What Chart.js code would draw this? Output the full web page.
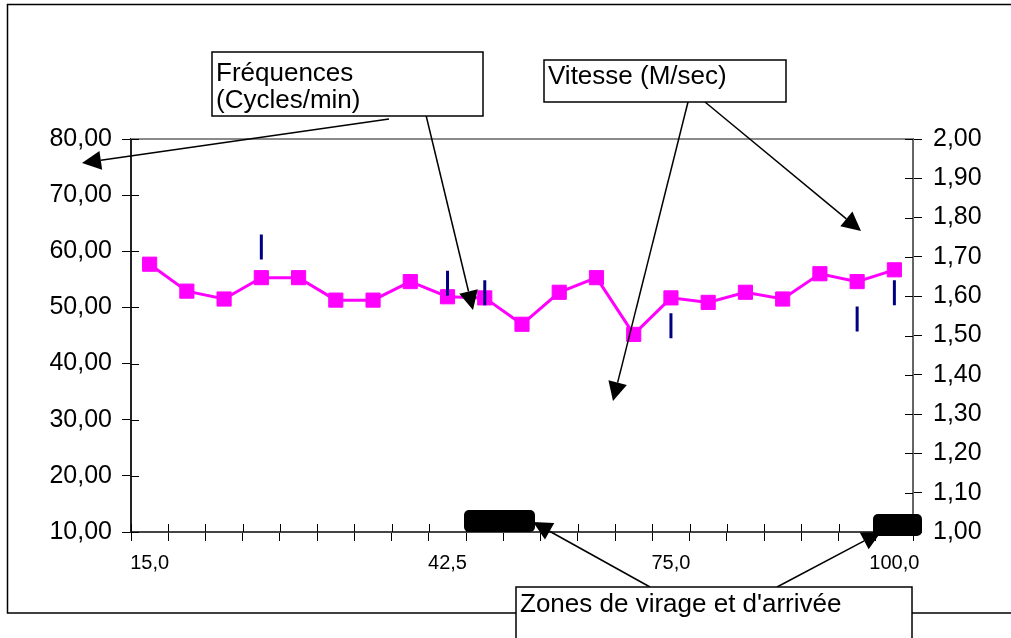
<!DOCTYPE html>
<html>
<head>
<meta charset="utf-8">
<title>Fréquences et vitesse</title>
<script src="https://cdn.jsdelivr.net/npm/chart.js@4/dist/chart.umd.min.js"></script>
<style>
  body { margin: 0; background: #fff; }
  canvas { display: block; }
</style>
</head>
<body>
<canvas id="graphique" width="1011" height="638"></canvas>
<script>
// Distances (seules quelques étiquettes sont affichées)
const distances = ['15,0', '', '', '', '', '', '', '', '42,5', '', '', '', '', '', '75,0', '', '', '', '', '', '100,0'];

// Fréquences (cycles/min), axe de gauche
const frequences = [57.7, 52.9, 51.5, 55.3, 55.3, 51.3, 51.3, 54.6, 51.9, 51.7, 47.0,
                    52.7, 55.3, 45.2, 51.7, 50.9, 52.7, 51.5, 56.0, 54.6, 56.7];

// Vitesse (m/sec), axe de droite
const vitesse = [null, null, null, 1.725, null, null, null, null, 1.633, 1.609, null,
                 null, null, null, 1.525, null, null, null, null, 1.542, 1.609];

// Graduations des axes
const gradGauche = { min: 10, max: 80, pas: 10 };
const gradDroite = { min: 1, max: 2, pas: 0.1 };

const police = "'Liberation Sans', Arial, sans-serif";
Chart.defaults.font.family = police;
Chart.defaults.color = '#000';

function virgule(v) {
  return Number(v).toFixed(2).replace('.', ',');
}

// Flèche pleine de (x1,y1) vers (x2,y2)
function fleche(ctx, x1, y1, x2, y2) {
  const ang = Math.atan2(y2 - y1, x2 - x1);
  const long = 19, demi = 9.5;
  const bx = x2 - Math.cos(ang) * long;
  const by = y2 - Math.sin(ang) * long;
  ctx.beginPath();
  ctx.moveTo(x1, y1);
  ctx.lineTo(bx, by);
  ctx.stroke();
  ctx.beginPath();
  ctx.moveTo(x2, y2);
  ctx.lineTo(bx + Math.sin(ang) * demi, by - Math.cos(ang) * demi);
  ctx.lineTo(bx - Math.sin(ang) * demi, by + Math.cos(ang) * demi);
  ctx.closePath();
  ctx.fill();
}

function boite(ctx, x, y, w, h, lignes, bas) {
  ctx.fillStyle = '#fff';
  ctx.fillRect(x, y, w, h);
  ctx.strokeStyle = '#000';
  ctx.lineWidth = 1.5;
  ctx.strokeRect(x, y, w, h);
  ctx.fillStyle = '#000';
  ctx.font = '26px ' + police;
  ctx.textAlign = 'left';
  ctx.textBaseline = 'alphabetic';
  lignes.forEach((t, i) => ctx.fillText(t, x + 4, bas + i * 27));
}

function pave(ctx, x, y, w, h) {
  ctx.fillStyle = '#000';
  ctx.beginPath();
  ctx.roundRect(x, y, w, h, 5);
  ctx.fill();
}

// Cadre, bord du tracé et petits traits de graduation côté intérieur
const decor = {
  id: 'decor',
  beforeDraw(chart) {
    const ctx = chart.ctx;
    ctx.save();
    ctx.fillStyle = '#fff';
    ctx.fillRect(0, 0, chart.width, chart.height);
    ctx.strokeStyle = '#000';
    ctx.lineWidth = 1.5;
    ctx.beginPath();
    ctx.moveTo(1011, 4.5);
    ctx.lineTo(7.5, 4.5);
    ctx.lineTo(7.5, 613);
    ctx.lineTo(1011, 613);
    ctx.stroke();
    ctx.restore();
  },
  afterDatasetsDraw(chart) {
    const ctx = chart.ctx;
    const a = chart.chartArea;
    const sx = chart.scales.x, sy = chart.scales.y, sy1 = chart.scales.y1;
    ctx.save();
    // bord supérieur gris
    ctx.strokeStyle = '#8a8a8a';
    ctx.lineWidth = 2;
    ctx.beginPath();
    ctx.moveTo(a.left, a.top);
    ctx.lineTo(a.right, a.top);
    ctx.stroke();
    ctx.strokeStyle = '#000';
    ctx.lineWidth = 1;
    ctx.beginPath();
    for (let i = 0; i <= distances.length; i++) {
      const x = Math.round(sx.getPixelForValue(i - 0.5)) + 0.5;
      ctx.moveTo(x, a.bottom);
      ctx.lineTo(x, a.bottom - 8);
    }
    sy.ticks.forEach((t, i) => {
      const y = Math.round(sy.getPixelForTick(i)) + 0.5;
      ctx.moveTo(a.left, y);
      ctx.lineTo(a.left + 8, y);
    });
    sy1.ticks.forEach((t, i) => {
      const y = Math.round(sy1.getPixelForTick(i)) + 0.5;
      ctx.moveTo(a.right, y);
      ctx.lineTo(a.right - 8, y);
    });
    ctx.stroke();
    ctx.restore();
  },
  afterDraw(chart) {
    const ctx = chart.ctx;
    ctx.save();
    ctx.strokeStyle = '#000';
    ctx.fillStyle = '#000';
    ctx.lineWidth = 1.5;
    // zones de virage et d'arrivée
    pave(ctx, 464, 510, 71, 22);
    pave(ctx, 873, 514, 49, 22);
    fleche(ctx, 389, 119, 82, 163);
    fleche(ctx, 425, 111, 473, 310);
    fleche(ctx, 688, 102, 613, 401);
    fleche(ctx, 705, 102, 861, 231);
    fleche(ctx, 650, 587, 533, 522);
    fleche(ctx, 777, 587, 881, 532);
    boite(ctx, 212, 52, 271, 64, ['Fréquences', '(Cycles/min)'], 81);
    boite(ctx, 544, 60, 242, 42, ['Vitesse (M/sec)'], 84);
    boite(ctx, 516, 587, 396, 52, ["Zones de virage et d'arrivée"], 612);
    ctx.restore();
  }
};

const ctx = document.getElementById('graphique').getContext('2d');

const graphique = new Chart(ctx, {
  type: 'line',
  data: {
    labels: distances,
    datasets: [
      {
        label: 'Fréquences (Cycles/min)',
        data: frequences,
        yAxisID: 'y',
        order: 1,
        borderColor: '#ff00ff',
        backgroundColor: '#ff00ff',
        borderWidth: 3,
        pointStyle: 'rect',
        pointRadius: 10,
        pointBorderWidth: 1,
        pointBackgroundColor: '#ff00ff',
        pointBorderColor: '#ff00ff',
        tension: 0
      },
      {
        label: 'Vitesse (M/sec)',
        data: vitesse,
        yAxisID: 'y1',
        order: 0,
        showLine: false,
        pointStyle: 'line',
        pointRotation: 90,
        pointRadius: 12.5,
        pointBorderWidth: 3,
        pointBorderColor: '#000080',
        borderColor: '#000080'
      }
    ]
  },
  options: {
    responsive: false,
    devicePixelRatio: 1,
    animation: false,
    layout: { padding: { top: 139, left: 0, right: 0, bottom: 0 } },
    plugins: {
      legend: { display: false },
      tooltip: { enabled: false }
    },
    scales: {
      x: {
        type: 'category',
        offset: true,
        grid: { offset: true, drawOnChartArea: false, tickLength: 9, color: '#000', lineWidth: 1 },
        border: { color: '#444', width: 2 },
        ticks: { autoSkip: false, maxRotation: 0, padding: 10, font: { size: 20 } },
        afterFit(s) { s.height = 106; }
      },
      y: {
        position: 'left',
        min: gradGauche.min,
        max: gradGauche.max,
        grid: { drawOnChartArea: false, tickLength: 9, color: '#000', lineWidth: 1 },
        border: { color: '#222', width: 2 },
        ticks: { stepSize: gradGauche.pas, padding: 10, font: { size: 25 }, callback: virgule },
        afterFit(s) { s.width = 131; }
      },
      y1: {
        position: 'right',
        min: gradDroite.min,
        max: gradDroite.max,
        grid: { drawOnChartArea: false, tickLength: 9, color: '#000', lineWidth: 1 },
        border: { color: '#666', width: 2 },
        ticks: { stepSize: gradDroite.pas, padding: 11, font: { size: 25 }, callback: virgule },
        afterFit(s) { s.width = 98; }
      }
    }
  },
  plugins: [decor]
});
</script>
</body>
</html>
